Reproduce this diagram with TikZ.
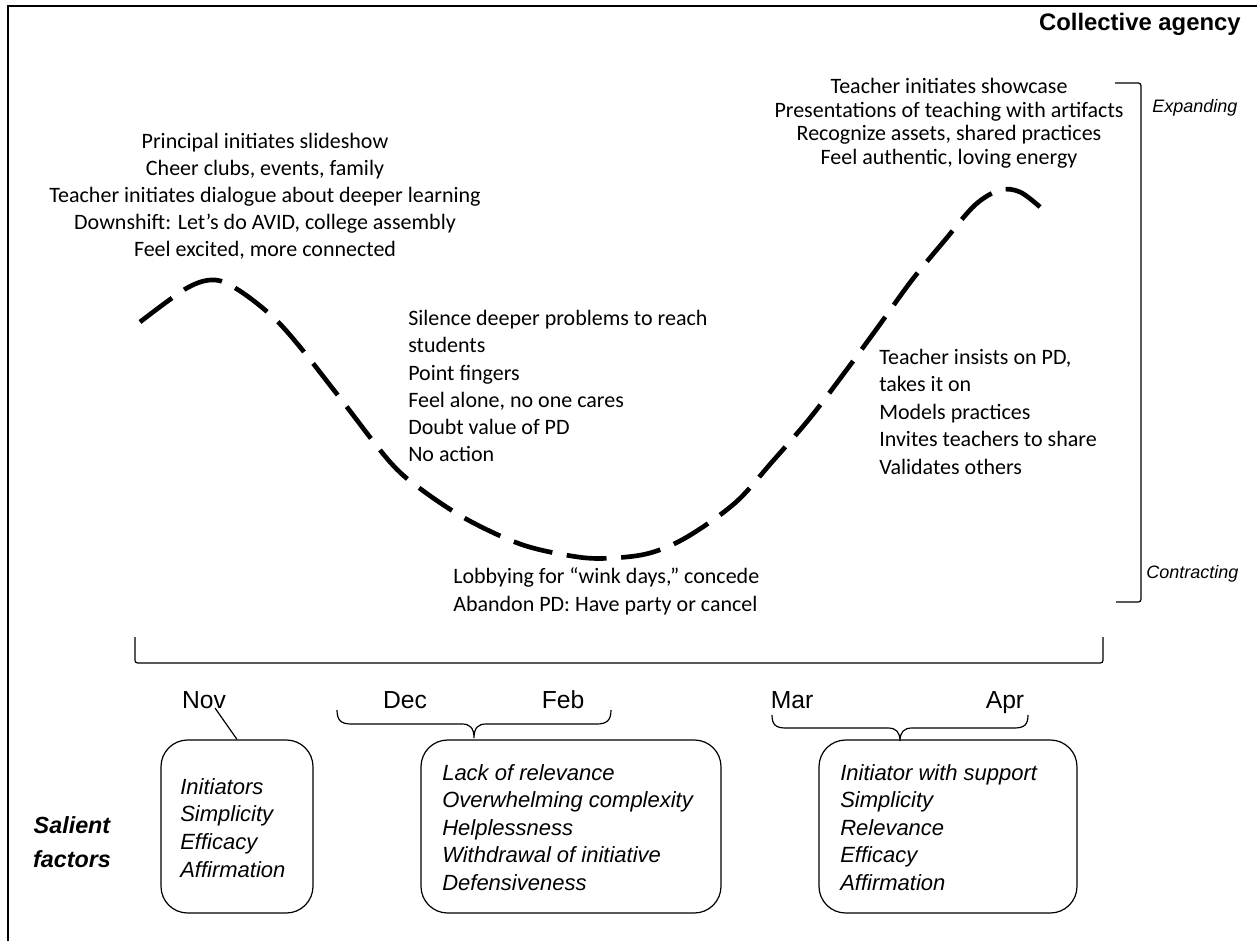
\documentclass[tikz,border=0pt]{standalone}
\usepackage{fontspec}
\setmainfont{Carlito}
\newfontfamily\arialfont{Liberation Sans}
\begin{document}
\begin{tikzpicture}[x=0.75pt,y=-0.75pt,
  body/.style={font=\fontsize{16.5}{20}\selectfont, inner sep=0pt},
  factor/.style={font=\arialfont\itshape\fontsize{16.5}{20}\selectfont, inner sep=0pt, anchor=base west},
  month/.style={font=\arialfont\fontsize{18.5}{22}\selectfont, inner sep=0pt, anchor=base},
  sidelabel/.style={font=\arialfont\itshape\fontsize{13.5}{16}\selectfont, inner sep=0pt, anchor=base west},
  factorbox/.style={draw, line width=0.9pt, rounded corners=20pt, inner sep=0pt},
  frameline/.style={line width=1.7pt},
  thinline/.style={line width=0.9pt},
  trend/.style={line width=3.5pt, dash pattern=on 30pt off 11pt}]
\useasboundingbox (0,0) rectangle (1257,941);

% outer frame (top and left edges)
\draw[frameline] (8,950) -- (8,6) -- (1265,6);

% title
\node[font=\arialfont\bfseries\fontsize{17.9}{21}\selectfont, inner sep=0pt, anchor=base east] (title) at (1241,31) {Collective agency};

% trend line of collective agency over the year
\draw[trend] plot[smooth, tension=0.55] coordinates {
  (140,322) (187,288) (215,280) (240,291) (273,317) (300,347) (340,398)
  (390,462) (422,490) (468,520) (523,545) (578,557) (613,558) (650,553)
  (687,537) (735,503) (772,462) (810,418) (845,372) (878,327) (912,280)
  (945,240) (975,205) (1000,190) (1020,192) (1040,207)};

% annotations along the trend
\foreach \t [count=\i from 0] in {Principal initiates slideshow, {Cheer clubs, events, family},
    Teacher initiates dialogue about deeper learning, {Downshift: Let’s do AVID, college assembly},
    {Feel excited, more connected}}
  \node[body, anchor=base] (nov\i) at (265,{149+27*\i}) {\t};

\foreach \t [count=\i from 0] in {Teacher initiates showcase, Presentations of teaching with artifacts,
    {Recognize assets, shared practices}, {Feel authentic, loving energy}}
  \node[body, anchor=base] (apr\i) at (949,{94+23.5*\i}) {\t};

\foreach \t [count=\i from 0] in {Silence deeper problems to reach, students, Point fingers,
    {Feel alone, no one cares}, Doubt value of PD, No action}
  \node[body, anchor=base west] (dec\i) at (408,{326+27*\i}) {\t};

\foreach \t [count=\i from 0] in {{Lobbying for “wink days,” concede}, {Abandon PD: Have party or cancel}}
  \node[body, anchor=base west] (feb\i) at (453,{583+28*\i}) {\t};

\foreach \t [count=\i from 0] in {{Teacher insists on PD,}, takes it on, Models practices,
    Invites teachers to share, Validates others}
  \node[body, anchor=base west] (mar\i) at (879,{364+27.5*\i}) {\t};

% vertical scale bracket
\draw[thinline, rounded corners=2pt] (1115,83) -- (1141,83) -- (1141,602) -- (1116,602);
\node[sidelabel] (expanding) at (1152,113) {Expanding};
\node[sidelabel] (contracting) at (1146,578) {Contracting};

% time axis bracket
\draw[thinline, rounded corners=2pt] (135,637) -- (135,663) -- (1103,663) -- (1103,637);

% months
\node[month] (nov) at (204,708) {Nov};
\node[month] (dec) at (405,708) {Dec};
\node[month] (feb) at (563,708) {Feb};
\node[month] (mar) at (792,708) {Mar};
\node[month] (apr) at (1005,708) {Apr};

% salient factor boxes
\node[factorbox, minimum width=114pt, minimum height=129.75pt] (box1) at (237,826.5) {};
\node[factorbox, minimum width=225pt, minimum height=129.75pt] (box2) at (571,826.5) {};
\node[factorbox, minimum width=193.5pt, minimum height=129.75pt] (box3) at (948,826.5) {};

\foreach \t [count=\i from 0] in {Initiators, Simplicity, Efficacy, Affirmation}
  \node[factor] (fa\i) at (180,{794+27.7*\i}) {\t};
\foreach \t [count=\i from 0] in {Lack of relevance, Overwhelming complexity, Helplessness,
    Withdrawal of initiative, Defensiveness}
  \node[factor] (fb\i) at (442,{780+27.5*\i}) {\t};
\foreach \t [count=\i from 0] in {Initiator with support, Simplicity, Relevance, Efficacy, Affirmation}
  \node[factor] (fc\i) at (840,{780+27.5*\i}) {\t};

\node[font=\arialfont\bfseries\itshape\fontsize{17.5}{26}\selectfont, align=center, inner sep=0pt] (salient) at (72,842) {Salient\\factors};

% Nov pointer
\draw[thinline] ([xshift=8.25pt]nov.base) -- (box1.north);

% Dec--Feb brace
\coordinate (bDec) at (337,710);
\coordinate (bFeb) at (611,710);
\draw[thinline] (bDec) .. controls (337,720) and (341,724) .. (351,724) -- (462,724)
  .. controls (470,724) and (474,728) .. (474,738)
  .. controls (474,728) and (478,724) .. (486,724) -- (597,724)
  .. controls (607,724) and (611,720) .. (bFeb);

% Mar--Apr brace
\coordinate (bMar) at (772,715);
\coordinate (bApr) at (1028,715);
\draw[thinline] (bMar) .. controls (772,725) and (776,728) .. (786,728) -- (888,728)
  .. controls (896,728) and (900,732) .. (900,741)
  .. controls (900,732) and (904,728) .. (912,728) -- (1014,728)
  .. controls (1024,728) and (1028,725) .. (bApr);
\end{tikzpicture}
\end{document}
